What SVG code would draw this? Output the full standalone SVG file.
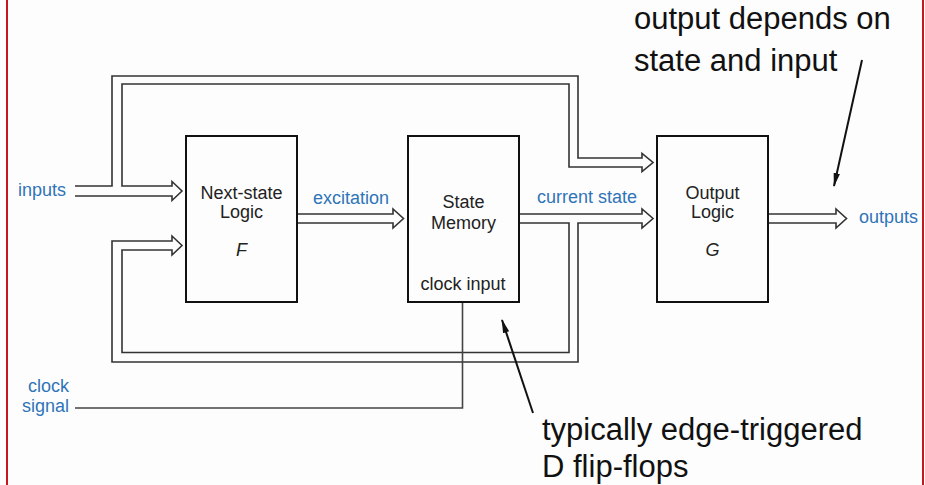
<svg xmlns="http://www.w3.org/2000/svg" width="925" height="485" viewBox="0 0 925 485">
<style>
.box{fill:#fdfdfd;stroke:#111;stroke-width:2}
.bus{fill:none;stroke:#333;stroke-width:1.6;stroke-linejoin:miter}
.wire{fill:none;stroke:#444;stroke-width:1.6}
.lbl{font-family:"Liberation Sans",Arial,sans-serif;font-size:18px;fill:#222}
.blue{font-family:"Liberation Sans",Arial,sans-serif;font-size:18px;fill:#2f74b8}
.note{font-family:"Liberation Sans",Arial,sans-serif;font-size:31px;fill:#111}
.ptr{fill:none;stroke:#111;stroke-width:2}
</style>
<defs>
<marker id="ah" markerWidth="14" markerHeight="8" refX="13" refY="4" orient="auto" markerUnits="userSpaceOnUse">
<path d="M0,0.8 L14,4 L0,7.2 Z" fill="#111"/>
</marker>
</defs>
<rect x="0" y="0" width="925" height="485" fill="#fdfdfd"/>
<line x1="7" y1="0" x2="7" y2="485" stroke="#c8161d" stroke-width="2"/>
<line x1="923" y1="0" x2="923" y2="485" stroke="#c8161d" stroke-width="2"/>

<g id="connectors">
<path class="bus" d="M75,196 H172 V200.5 L182,191 L172,181.5 V186 H122 V84 H569 V167 H642 V171.5 L653,162.5 L642,153.5 V158 H578 V76 H112 V186 H75"/>
<path class="bus" d="M297,214 H393 V209 L403.5,218.5 L393,228 V223 H297"/>
<path class="bus" d="M519,214 H642 V209 L653,218.5 L642,228 V223 H578 V362 H112 V241 H172 V236 L182,245.5 L172,255 V250 H122 V352.5 H569 V223 H519"/>
<path class="bus" d="M768,214 H836 V209 L846.5,218.5 L836,228 V223 H768"/>
<path class="wire" d="M75,408 H462.5 V303"/>
<line class="ptr" x1="862" y1="60" x2="834" y2="186" marker-end="url(#ah)"/>
<line class="ptr" x1="533" y1="413" x2="502" y2="320" marker-end="url(#ah)"/>
</g>

<g id="next-state-logic">
<rect class="box" x="186" y="136" width="111" height="166"/>
<text class="lbl" x="241.5" y="199" text-anchor="middle">Next-state</text>
<text class="lbl" x="241.5" y="218" text-anchor="middle">Logic</text>
<text class="lbl" x="241.5" y="256" text-anchor="middle" font-style="italic">F</text>
</g>

<g id="state-memory">
<rect class="box" x="408" y="136" width="111" height="166"/>
<text class="lbl" x="463.5" y="208" text-anchor="middle">State</text>
<text class="lbl" x="463.5" y="229" text-anchor="middle">Memory</text>
<text class="lbl" x="463" y="290" text-anchor="middle">clock input</text>
</g>

<g id="output-logic">
<rect class="box" x="657" y="136" width="111" height="166"/>
<text class="lbl" x="712.5" y="199" text-anchor="middle">Output</text>
<text class="lbl" x="712.5" y="218" text-anchor="middle">Logic</text>
<text class="lbl" x="712.5" y="256" text-anchor="middle" font-style="italic">G</text>
</g>

<g id="labels">
<text class="blue" x="18" y="196">inputs</text>
<text class="blue" x="313" y="204">excitation</text>
<text class="blue" x="537" y="203">current state</text>
<text class="blue" x="859" y="223">outputs</text>
<text class="blue" x="69" y="392" text-anchor="end">clock</text>
<text class="blue" x="69" y="412" text-anchor="end">signal</text>
</g>

<g id="notes">
<text class="note" x="634" y="29">output depends on</text>
<text class="note" x="634" y="71">state and input</text>
<text class="note" x="542" y="440">typically edge-triggered</text>
<text class="note" x="542" y="477">D flip-flops</text>
</g>
</svg>
